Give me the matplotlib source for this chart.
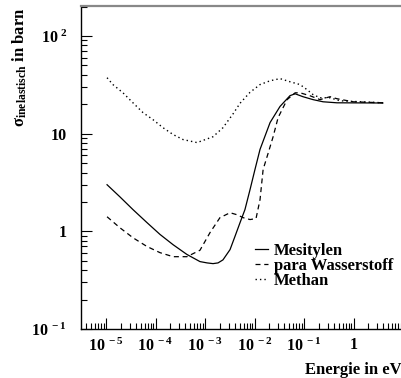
import numpy as np
import matplotlib
matplotlib.use("Agg")
import matplotlib.pyplot as plt
from matplotlib.ticker import LogLocator, FixedFormatter, FixedLocator, NullFormatter

plt.rcParams['font.family'] = ['Liberation Serif', 'DejaVu Serif']
plt.rcParams['font.weight'] = 'bold'
plt.rcParams['mathtext.fontset'] = 'custom'
plt.rcParams['mathtext.rm'] = 'Liberation Serif:bold'
plt.rcParams['mathtext.bf'] = 'Liberation Serif:bold'
plt.rcParams['mathtext.it'] = 'Liberation Serif:italic:bold'

# Mesitylen (solid)
e_mes = [1.05e-5, 1.9e-5, 3.5e-5, 6.7e-5, 1.23e-4, 2.26e-4, 4.3e-4, 7.9e-4,
         1.1e-3, 1.45e-3, 1.83e-3, 2.3e-3, 3.2e-3, 4.0e-3, 5.1e-3, 6.4e-3,
         8.1e-3, 0.0102, 0.0129, 0.0206, 0.0327, 0.052, 0.066, 0.095, 0.152,
         0.242, 0.46, 3.9]
s_mes = [3.0, 2.26, 1.67, 1.23, 0.93, 0.73, 0.58, 0.49,
         0.475, 0.467, 0.475, 0.51, 0.65, 0.88, 1.23, 1.67,
         2.67, 4.3, 6.9, 13.0, 19.0, 24.5, 25.6, 23.9, 22.3,
         21.2, 20.7, 20.6]

# para Wasserstoff (dashed)
e_h2 = [1.05e-5, 1.9e-5, 3.5e-5, 6.7e-5, 1.23e-4, 2.26e-4, 4.3e-4, 7.9e-4,
        1.26e-3, 2.0e-3, 3.2e-3, 4.4e-3, 5.9e-3, 8.1e-3, 0.0107, 0.0129,
        0.0149, 0.0188, 0.0237, 0.0299, 0.0454, 0.066, 0.083, 0.13, 0.21,
        0.335, 0.46, 0.98, 3.9]
s_h2 = [1.41, 1.09, 0.86, 0.70, 0.605, 0.55, 0.55, 0.64,
        0.97, 1.38, 1.55, 1.48, 1.38, 1.32, 1.35, 2.11,
        4.3, 6.3, 9.3, 14.6, 22.3, 26.2, 26.2, 24.5, 22.3,
        23.9, 22.8, 21.2, 20.7]

# Methan (dotted)
e_ch4 = [1.05e-5, 1.38e-5, 2.2e-5, 3.5e-5, 5.6e-5, 8.9e-5, 1.42e-4, 2.26e-4,
         3.6e-4, 6.9e-4, 1.45e-3, 2.3e-3, 3.7e-3, 5.1e-3, 8.1e-3, 0.0129,
         0.0206, 0.0327, 0.052, 0.083, 0.115, 0.152, 0.21, 0.335, 0.53, 3.9]
s_ch4 = [37.4, 31.8, 26.2, 20.7, 16.4, 13.9, 11.5, 9.8,
         8.7, 8.1, 9.3, 11.5, 16.0, 20.5, 26.5, 31.8,
         34.8, 36.6, 34.0, 31.8, 28.2, 25.1, 23.3, 23.3, 21.7, 20.7]

x_ticks = [1e-5, 1e-4, 1e-3, 1e-2, 1e-1, 1, 10]
x_labels = [r'$10^{\ -5}$', r'$10^{\ -4}$', r'$10^{\ -3}$', r'$10^{\ -2}$',
            r'$10^{\ -1}$', '1', '']
y_ticks = [0.1, 1, 10, 100]
y_labels = [r'$10^{\ -1}$', '1', '10', r'$10^{\ 2}$']

fig = plt.figure(figsize=(4.01, 3.78), dpi=100)
ax = fig.add_axes([81 / 401, 49 / 378, 337 / 401, 323 / 378])

ax.plot(e_mes, s_mes, color='black', lw=0.9, label='Mesitylen')
ax.plot(e_h2, s_h2, color='black', lw=0.9, linestyle=(0, (4, 3)), label='para Wasserstoff')
ax.plot(e_ch4, s_ch4, color='black', lw=1.0, linestyle=(0, (1, 2.2)), label='Methan')

ax.set_xscale('log')
ax.set_yscale('log')
ax.set_xlim(10 ** -5.505, 20)
ax.set_ylim(0.1, 10 ** 2.307)

ax.xaxis.set_major_locator(FixedLocator(x_ticks))
ax.xaxis.set_major_formatter(FixedFormatter(x_labels))
ax.xaxis.set_minor_locator(LogLocator(base=10, subs=np.arange(2, 10), numticks=20))
ax.xaxis.set_minor_formatter(NullFormatter())
ax.yaxis.set_major_locator(FixedLocator(y_ticks))
ax.yaxis.set_major_formatter(FixedFormatter(y_labels))
ax.yaxis.set_minor_locator(LogLocator(base=10, subs=np.arange(2, 10), numticks=20))
ax.yaxis.set_minor_formatter(NullFormatter())

ax.tick_params(which='both', direction='in', top=False, right=False, width=0.8)
ax.tick_params(which='major', length=8, labelsize=11.5)
ax.tick_params(which='minor', length=4.3)
ax.tick_params(axis='x', which='major', pad=6)
ax.tick_params(axis='y', which='major', pad=10)

for side in ['left', 'bottom']:
    ax.spines[side].set_linewidth(1.0)
ax.spines['top'].set_color('#888888')
ax.spines['top'].set_linewidth(1.6)
ax.spines['right'].set_visible(False)

fig.text(20 / 401, 1 - 8 / 378, r'$\mathrm{\sigma}_{\mathbf{inelastisch}}$ in barn',
         rotation=90, ha='center', va='top', fontsize=12, fontweight='bold')
fig.text(305 / 401, 1 - 370 / 378, 'Energie in eV', ha='left', va='center',
         fontsize=12, fontweight='bold')

leg = ax.legend(loc='center left', bbox_to_anchor=(255 / 401, 1 - 266 / 378),
                bbox_transform=fig.transFigure, frameon=False, fontsize=12,
                handlelength=0.8, handletextpad=0.35, labelspacing=-0.05,
                borderpad=0, borderaxespad=0)
for t in leg.get_texts():
    t.set_fontweight('bold')

fig.savefig('out.png', dpi=100)
